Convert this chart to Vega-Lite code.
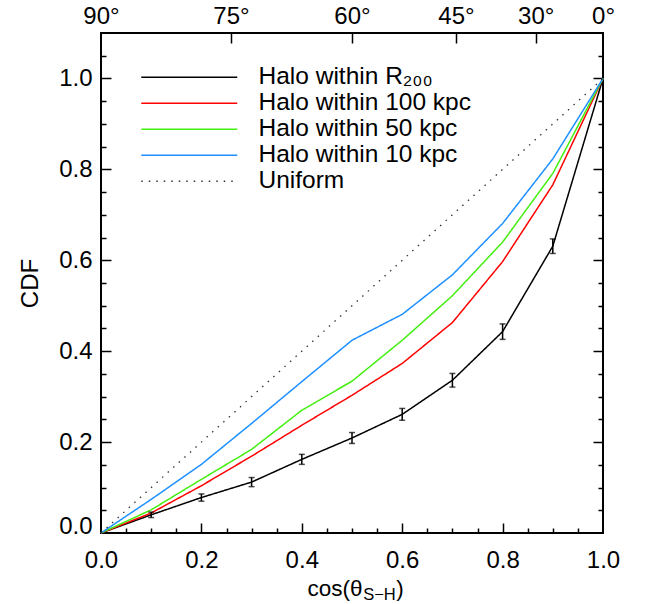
{
  "$schema": "https://vega.github.io/schema/vega-lite/v6.json",
  "width": 502,
  "height": 500,
  "autosize": {"type": "none"},
  "padding": {"left": 101, "top": 33, "right": 42, "bottom": 71},
  "config": {
    "font": "Liberation Sans",
    "view": {"stroke": "black", "strokeWidth": 2},
    "axis": {"tickColor": "black", "labelColor": "black", "titleColor": "black", "titleFontWeight": "normal", "grid": false},
    "legend": {"orient": "none", "legendX": 76, "legendY": 32, "title": null, "symbolType": "M-9.6,0H9.6", "symbolSize": 100, "symbolStrokeWidth": 1.5,
               "labelFontSize": 24.5, "labelOffset": 57, "rowPadding": 1, "labelLimit": 400, "padding": 0, "labelColor": "black"}
  },
  "datasets": {
    "halo": [
      {"series": "Halo within R\u2082\u2080\u2080", "cos": 0.0, "cdf": 0.0},
      {"series": "Halo within R\u2082\u2080\u2080", "cos": 0.1, "cdf": 0.040},
      {"series": "Halo within R\u2082\u2080\u2080", "cos": 0.2, "cdf": 0.078},
      {"series": "Halo within R\u2082\u2080\u2080", "cos": 0.3, "cdf": 0.112},
      {"series": "Halo within R\u2082\u2080\u2080", "cos": 0.4, "cdf": 0.162},
      {"series": "Halo within R\u2082\u2080\u2080", "cos": 0.5, "cdf": 0.209},
      {"series": "Halo within R\u2082\u2080\u2080", "cos": 0.6, "cdf": 0.261},
      {"series": "Halo within R\u2082\u2080\u2080", "cos": 0.7, "cdf": 0.336},
      {"series": "Halo within R\u2082\u2080\u2080", "cos": 0.8, "cdf": 0.443},
      {"series": "Halo within R\u2082\u2080\u2080", "cos": 0.9, "cdf": 0.631},
      {"series": "Halo within R\u2082\u2080\u2080", "cos": 1.0, "cdf": 1.0},
      {"series": "Halo within 100 kpc", "cos": 0.0, "cdf": 0.0},
      {"series": "Halo within 100 kpc", "cos": 0.1, "cdf": 0.044},
      {"series": "Halo within 100 kpc", "cos": 0.2, "cdf": 0.104},
      {"series": "Halo within 100 kpc", "cos": 0.3, "cdf": 0.169},
      {"series": "Halo within 100 kpc", "cos": 0.4, "cdf": 0.237},
      {"series": "Halo within 100 kpc", "cos": 0.5, "cdf": 0.303},
      {"series": "Halo within 100 kpc", "cos": 0.6, "cdf": 0.373},
      {"series": "Halo within 100 kpc", "cos": 0.7, "cdf": 0.463},
      {"series": "Halo within 100 kpc", "cos": 0.8, "cdf": 0.597},
      {"series": "Halo within 100 kpc", "cos": 0.9, "cdf": 0.766},
      {"series": "Halo within 100 kpc", "cos": 1.0, "cdf": 1.0},
      {"series": "Halo within 50 kpc", "cos": 0.0, "cdf": 0.0},
      {"series": "Halo within 50 kpc", "cos": 0.1, "cdf": 0.051},
      {"series": "Halo within 50 kpc", "cos": 0.2, "cdf": 0.118},
      {"series": "Halo within 50 kpc", "cos": 0.3, "cdf": 0.184},
      {"series": "Halo within 50 kpc", "cos": 0.4, "cdf": 0.270},
      {"series": "Halo within 50 kpc", "cos": 0.5, "cdf": 0.334},
      {"series": "Halo within 50 kpc", "cos": 0.6, "cdf": 0.424},
      {"series": "Halo within 50 kpc", "cos": 0.7, "cdf": 0.522},
      {"series": "Halo within 50 kpc", "cos": 0.8, "cdf": 0.640},
      {"series": "Halo within 50 kpc", "cos": 0.9, "cdf": 0.791},
      {"series": "Halo within 50 kpc", "cos": 1.0, "cdf": 1.0},
      {"series": "Halo within 10 kpc", "cos": 0.0, "cdf": 0.0},
      {"series": "Halo within 10 kpc", "cos": 0.1, "cdf": 0.074},
      {"series": "Halo within 10 kpc", "cos": 0.2, "cdf": 0.151},
      {"series": "Halo within 10 kpc", "cos": 0.3, "cdf": 0.241},
      {"series": "Halo within 10 kpc", "cos": 0.4, "cdf": 0.333},
      {"series": "Halo within 10 kpc", "cos": 0.5, "cdf": 0.424},
      {"series": "Halo within 10 kpc", "cos": 0.6, "cdf": 0.481},
      {"series": "Halo within 10 kpc", "cos": 0.7, "cdf": 0.568},
      {"series": "Halo within 10 kpc", "cos": 0.8, "cdf": 0.681},
      {"series": "Halo within 10 kpc", "cos": 0.9, "cdf": 0.823},
      {"series": "Halo within 10 kpc", "cos": 1.0, "cdf": 1.0}
    ],
    "uniform": [
      {"series": "Uniform", "cos": 0.0, "cdf": 0.0},
      {"series": "Uniform", "cos": 1.0, "cdf": 1.0}
    ],
    "err": [
      {"cos": 0.1, "lo": 0.034, "hi": 0.046},
      {"cos": 0.2, "lo": 0.070, "hi": 0.086},
      {"cos": 0.3, "lo": 0.102, "hi": 0.122},
      {"cos": 0.4, "lo": 0.151, "hi": 0.173},
      {"cos": 0.5, "lo": 0.197, "hi": 0.221},
      {"cos": 0.6, "lo": 0.248, "hi": 0.274},
      {"cos": 0.7, "lo": 0.321, "hi": 0.351},
      {"cos": 0.8, "lo": 0.426, "hi": 0.460},
      {"cos": 0.9, "lo": 0.615, "hi": 0.647}
    ]
  },
  "resolve": {"axis": {"x": "independent", "y": "independent"}},
  "layer": [
    {
      "data": {"name": "halo"},
      "mark": {"type": "line", "strokeWidth": 1.5},
      "encoding": {
        "x": {"field": "cos", "type": "quantitative", "scale": {"domain": [0, 1], "nice": false, "zero": false},
          "axis": {"orient": "bottom", "values": [0.05,0.1,0.15,0.2,0.25,0.3,0.35,0.4,0.45,0.5,0.55,0.6,0.65,0.7,0.75,0.8,0.85,0.9,0.95],
            "labels": false, "domain": false, "title": null, "tickWidth": 1.5,
            "tickSize": {"condition": {"test": "abs(datum.value*5 - round(datum.value*5)) < 0.001", "value": -10}, "value": -5}}},
        "y": {"field": "cdf", "type": "quantitative", "scale": {"domain": [0, 1.1], "nice": false, "zero": false},
          "axis": {"orient": "left", "values": [0.05,0.1,0.15,0.2,0.25,0.3,0.35,0.4,0.45,0.5,0.55,0.6,0.65,0.7,0.75,0.8,0.85,0.9,0.95,1.0,1.05],
            "labels": false, "domain": false, "title": null, "tickWidth": 1.5,
            "tickSize": {"condition": {"test": "abs(datum.value*5 - round(datum.value*5)) < 0.001", "value": -10}, "value": -5}}},
        "color": {"field": "series", "type": "nominal",
          "scale": {"domain": ["Halo within R\u2082\u2080\u2080", "Halo within 100 kpc", "Halo within 50 kpc", "Halo within 10 kpc", "Uniform"],
                    "range": ["#000000", "#ff0000", "#44ee11", "#1e90ff", "#333333"]}},
        "strokeDash": {"field": "series", "type": "nominal",
          "scale": {"domain": ["Halo within R\u2082\u2080\u2080", "Halo within 100 kpc", "Halo within 50 kpc", "Halo within 10 kpc", "Uniform"],
                    "range": [[1, 0], [1, 0], [1, 0], [1, 0], [1.5, 6]]}}
      }
    },
    {
      "data": {"name": "uniform"},
      "mark": {"type": "line", "strokeWidth": 1.3},
      "encoding": {
        "x": {"field": "cos", "type": "quantitative", "scale": {"domain": [0, 1], "nice": false, "zero": false},
          "axis": {"orient": "bottom", "values": [0, 0.2, 0.4, 0.6, 0.8, 1], "format": ".1f", "ticks": false, "domain": false,
            "labelFontSize": 24, "labelPadding": 34, "labelBaseline": "alphabetic", "labelFlush": false, "labelOverlap": false,
            "title": "cos(\u03b8\u2003\u2002)", "titleFontSize": 22.5, "titleX": 254, "titleY": 62, "titleAlign": "center", "titleBaseline": "alphabetic"}},
        "y": {"field": "cdf", "type": "quantitative", "scale": {"domain": [0, 1.1], "nice": false, "zero": false},
          "axis": {"orient": "left", "values": [0, 0.2, 0.4, 0.6, 0.8, 1.0], "format": ".1f", "ticks": false, "domain": false,
            "labelFontSize": 24, "labelPadding": 9, "labelFlush": false, "labelOverlap": false,
            "labelBaseline": {"condition": {"test": "datum.value == 0", "value": "alphabetic"}, "value": "middle"},
            "title": "CDF", "titleFontSize": 24, "titleAngle": -90, "titleX": -64, "titleY": 250, "titleAlign": "center", "titleBaseline": "alphabetic"}},
        "color": {"field": "series", "type": "nominal",
          "scale": {"domain": ["Halo within R\u2082\u2080\u2080", "Halo within 100 kpc", "Halo within 50 kpc", "Halo within 10 kpc", "Uniform"],
                    "range": ["#000000", "#ff0000", "#44ee11", "#1e90ff", "#333333"]}},
        "strokeDash": {"field": "series", "type": "nominal",
          "scale": {"domain": ["Halo within R\u2082\u2080\u2080", "Halo within 100 kpc", "Halo within 50 kpc", "Halo within 10 kpc", "Uniform"],
                    "range": [[1, 0], [1, 0], [1, 0], [1, 0], [1.5, 6]]}}
      }
    },
    {
      "data": {"name": "err"},
      "mark": {"type": "rule", "color": "black", "strokeWidth": 1.5},
      "encoding": {
        "x": {"field": "cos", "type": "quantitative", "scale": {"domain": [0, 1], "nice": false, "zero": false},
          "axis": {"orient": "top", "values": [0.258819, 0.5, 0.707107, 0.866025], "labels": false, "domain": false, "title": null,
            "tickSize": -10, "tickWidth": 1.5}},
        "y": {"field": "lo", "type": "quantitative", "scale": {"domain": [0, 1.1], "nice": false, "zero": false},
          "axis": {"orient": "right", "values": [0.05,0.1,0.15,0.2,0.25,0.3,0.35,0.4,0.45,0.5,0.55,0.6,0.65,0.7,0.75,0.8,0.85,0.9,0.95,1.0,1.05],
            "labels": false, "domain": false, "title": null, "tickWidth": 1.5,
            "tickSize": {"condition": {"test": "abs(datum.value*5 - round(datum.value*5)) < 0.001", "value": -10}, "value": -5}}},
        "y2": {"field": "hi"}
      }
    },
    {
      "data": {"name": "err"},
      "mark": {"type": "tick", "orient": "horizontal", "color": "black", "size": 6, "thickness": 1.5},
      "encoding": {
        "x": {"field": "cos", "type": "quantitative", "scale": {"domain": [0, 1], "nice": false, "zero": false},
          "axis": {"orient": "top", "values": [0, 0.258819, 0.5, 0.707107, 0.866025, 1], "labelExpr": "round(acos(datum.value)*180/PI) + '\u00b0'",
            "ticks": false, "domain": false, "labelFontSize": 24, "labelPadding": 10, "labelBaseline": "alphabetic", "labelFlush": false, "labelOverlap": false, "title": null}},
        "y": {"field": "lo", "type": "quantitative", "scale": {"domain": [0, 1.1], "nice": false, "zero": false}, "axis": null}
      }
    },
    {
      "data": {"name": "err"},
      "mark": {"type": "tick", "orient": "horizontal", "color": "black", "size": 6, "thickness": 1.5},
      "encoding": {
        "x": {"field": "cos", "type": "quantitative", "scale": {"domain": [0, 1], "nice": false, "zero": false},
          "axis": {"orient": "bottom", "ticks": false, "labels": false, "domain": false,
            "title": "S\u2212H", "titleFontSize": 16.5, "titleX": 278, "titleY": 66, "titleAlign": "center", "titleBaseline": "alphabetic"}},
        "y": {"field": "hi", "type": "quantitative", "scale": {"domain": [0, 1.1], "nice": false, "zero": false}, "axis": null}
      }
    }
  ]
}
